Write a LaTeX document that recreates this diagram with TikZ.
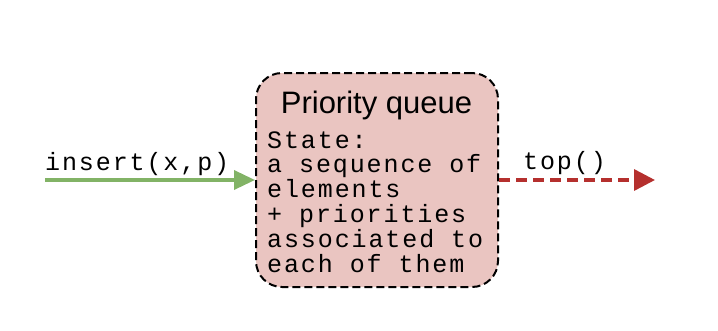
\documentclass[tikz,border=0pt]{standalone}
\usepackage{fontspec}
\setmainfont{Liberation Sans}
\newfontfamily\codefont[LetterSpace=7.6]{Liberation Mono}
\usetikzlibrary{arrows.meta}
\definecolor{qfill}{HTML}{EAC5C1}
\definecolor{ingreen}{HTML}{82B366}
\definecolor{outred}{HTML}{B5302E}
\begin{document}
\begin{tikzpicture}[x=1pt,y=-1pt,
  queuebox/.style={draw=black, line width=2pt, dash pattern=on 8pt off 4pt,
    fill=qfill, rounded corners=26pt, minimum width=242pt, minimum height=214pt,
    inner sep=0pt},
  titletext/.style={font=\fontsize{31}{35}\selectfont, inner sep=0pt, anchor=base},
  codetext/.style={font=\codefont\fontsize{25}{24.8}\selectfont, inner sep=0pt,
    align=left, anchor=base west},
  inarrow/.style={draw=ingreen, line width=3.5pt,
    -{Triangle[length=21pt,width=19pt]}},
  outarrow/.style={draw=outred, line width=3.5pt, dash pattern=on 11pt off 6pt,
    -{Triangle[length=21pt,width=21pt]}}]
  \useasboundingbox (0,0) rectangle (718,330);
  % the priority queue; the multi-line text sits on its last baseline
  \node[queuebox] (pq) at (377,180) {};
  \node[titletext] (title) at (376.5,113) {Priority queue};
  \node[codetext] (state) at (267,272) {State:\\a sequence of\\elements\\+ priorities\\associated to\\each of them};
  % operations
  \coordinate (src) at (45,180);
  \coordinate (dst) at (655,180);
  \draw[inarrow] (src) -- (pq.west |- src);
  \draw[outarrow] (pq.east |- dst) -- (dst);
  \node[codetext] (ins) at (45,170) {insert(x,p)};
  \node[codetext] (top) at (523,169) {top()};
\end{tikzpicture}
\end{document}
